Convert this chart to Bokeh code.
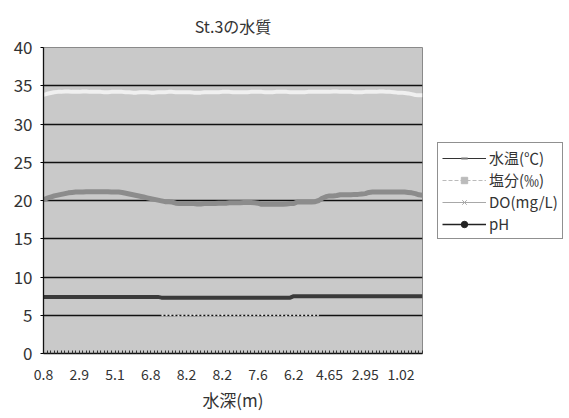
from bokeh.plotting import figure
from bokeh.layouts import row
from bokeh.models import Legend, LegendItem, FixedTicker, Range1d, ColumnDataSource
from bokeh.embed import file_html
from bokeh.resources import INLINE
import numpy as np

# ---- data ----
depth_labels = ["0.8", "2.9", "5.1", "6.8", "8.2", "8.2", "7.6", "6.2", "4.65", "2.95", "1.02"]
label_every = 10
n_points = 107

water_temp = [
    20.1, 20.3, 20.45, 20.6, 20.7, 20.8, 20.9, 21.0, 21.05, 21.1,
    21.1, 21.1, 21.15, 21.15, 21.15, 21.15, 21.15, 21.15, 21.15, 21.1,
    21.1, 21.1, 21.05, 20.95, 20.85, 20.75, 20.65, 20.55, 20.45, 20.35,
    20.25, 20.15, 20.05, 19.95, 19.85, 19.85, 19.8, 19.65, 19.6, 19.6,
    19.6, 19.6, 19.6, 19.55, 19.55, 19.6, 19.6, 19.6, 19.6, 19.65,
    19.65, 19.65, 19.7, 19.7, 19.7, 19.7, 19.75, 19.75, 19.75, 19.7,
    19.65, 19.5, 19.5, 19.5, 19.5, 19.5, 19.5, 19.5, 19.55, 19.6,
    19.6, 19.8, 19.8, 19.8, 19.8, 19.8, 19.85, 20.0, 20.3, 20.5,
    20.6, 20.6, 20.65, 20.75, 20.75, 20.75, 20.75, 20.8, 20.8, 20.85,
    20.9, 21.05, 21.1, 21.1, 21.1, 21.1, 21.1, 21.1, 21.1, 21.1,
    21.1, 21.1, 21.05, 21.0, 20.9, 20.75, 20.7,
]
salinity = [
    33.8, 33.95, 34.05, 34.15, 34.2, 34.2, 34.25, 34.25, 34.2, 34.2,
    34.2, 34.25, 34.25, 34.2, 34.2, 34.2, 34.2, 34.15, 34.15, 34.2,
    34.2, 34.2, 34.2, 34.15, 34.15, 34.1, 34.1, 34.15, 34.15, 34.15,
    34.1, 34.1, 34.15, 34.15, 34.15, 34.2, 34.2, 34.15, 34.15, 34.15,
    34.15, 34.15, 34.1, 34.1, 34.1, 34.15, 34.15, 34.15, 34.15, 34.15,
    34.2, 34.2, 34.2, 34.15, 34.15, 34.15, 34.15, 34.15, 34.2, 34.2,
    34.2, 34.2, 34.15, 34.15, 34.15, 34.2, 34.2, 34.2, 34.2, 34.15,
    34.15, 34.15, 34.15, 34.15, 34.2, 34.2, 34.2, 34.2, 34.2, 34.2,
    34.2, 34.25, 34.25, 34.2, 34.2, 34.2, 34.2, 34.15, 34.15, 34.15,
    34.2, 34.2, 34.2, 34.2, 34.25, 34.25, 34.2, 34.2, 34.15, 34.1,
    34.1, 34.05, 34.0, 33.9, 33.8, 33.75, 33.75,
]
do_mgl = [None] * 33 + [
    5.0, 5.0, 5.05, 5.0, 5.0, 4.95, 5.0, 5.0, 5.0, 5.05,
    5.0, 5.0, 5.0, 4.95, 5.0, 5.0, 5.0, 5.05, 5.0, 5.0,
    5.0, 5.0, 5.0, 4.95, 5.0, 5.0, 5.0, 5.0, 5.05, 5.0,
    5.0, 5.0, 5.0, 5.0, 5.0, 4.95, 5.0, 5.0, 5.0, 5.0,
    5.0, 5.0, 5.0, 5.0, 5.0,
] + [None] * 29
ph = [7.4] * 33 + [7.3] * 37 + [7.5] * 37

x = list(range(n_points))

FONT = "Noto Sans CJK JP"

p = figure(
    width=424, height=418,
    output_backend="svg", toolbar_location=None,
    x_range=Range1d(0, n_points - 1), y_range=Range1d(0, 40),
    title="St.3の水質",
    min_border_left=43, min_border_right=2, min_border_top=47, min_border_bottom=65,
)
p.background_fill_color = "#c9c9c9"
p.border_fill_color = "white"
p.outline_line_color = "#8a8a8a"
p.outline_line_width = 1

p.title.align = "center"
p.title.text_font = FONT
p.title.text_font_size = "16px"
p.title.text_font_style = "normal"
p.title.text_color = "#333333"
p.title.standoff = 20

# grid
p.xgrid.visible = False
p.ygrid.ticker = FixedTicker(ticks=[5, 10, 15, 20, 25, 30, 35])
p.ygrid.grid_line_color = "#111111"
p.ygrid.grid_line_width = 1.3

# y axis
p.yaxis.ticker = FixedTicker(ticks=list(range(0, 41, 5)))
p.yaxis.major_label_text_font = FONT
p.yaxis.major_label_text_font_size = "17px"
p.yaxis.major_label_text_color = "#333333"
p.yaxis.axis_line_color = "#111111"
p.yaxis.axis_line_width = 1.3
p.yaxis.major_tick_out = 3
p.yaxis.major_tick_in = 0
p.yaxis.minor_tick_line_color = None
p.yaxis.major_label_standoff = 8

# x axis
p.xaxis.ticker = FixedTicker(ticks=x)
p.xaxis.major_label_overrides = {
    i: (depth_labels[i // label_every] if i % label_every == 0 and i // label_every < len(depth_labels) else "")
    for i in x
}
p.xaxis.major_label_text_font = FONT
p.xaxis.major_label_text_font_size = "14px"
p.xaxis.major_label_text_color = "#333333"
p.xaxis.axis_line_color = "#111111"
p.xaxis.axis_line_width = 1.5
p.xaxis.major_tick_in = 3
p.xaxis.major_tick_out = 0
p.xaxis.major_tick_line_color = "#333333"
p.xaxis.minor_tick_line_color = None
p.xaxis.major_label_standoff = 15
p.xaxis.axis_label = "水深(m)"
p.xaxis.axis_label_text_font = FONT
p.xaxis.axis_label_text_font_size = "17px"
p.xaxis.axis_label_text_font_style = "normal"
p.xaxis.axis_label_text_color = "#333333"
p.xaxis.axis_label_standoff = 4

src = ColumnDataSource(dict(
    x=x, wt=water_temp, sal=salinity,
    do=[np.nan if v is None else v for v in do_mgl], ph=ph,
))

c_wt = "#8c8c8c"
c_sal = "#f0f0f0"
c_do = "#e2e2e2"
c_ph = "#3a3a3a"

p.line("x", "sal", source=src, line_color=c_sal, line_width=4)
p.line("x", "do", source=src, line_color=c_do, line_width=2, line_dash="2 2")
p.line("x", "wt", source=src, line_color=c_wt, line_width=5)
p.line("x", "ph", source=src, line_color=c_ph, line_width=4)

# ---- legend panel (separate figure to the right) ----
lg = figure(
    width=145, height=418,
    output_backend="svg", toolbar_location=None,
    x_range=Range1d(0, 1), y_range=Range1d(0, 1),
    min_border=0,
)
lg.axis.visible = False
lg.grid.visible = False
lg.outline_line_color = None
lg.background_fill_color = "white"
lg.border_fill_color = "white"

# off-screen points so the legend glyphs are drawn
hidden = ColumnDataSource(dict(x=[-5, -4], y=[-5, -5]))
lw_wt = lg.line("x", "y", source=hidden, line_color="#333333", line_width=1.2)
lm_wt = lg.scatter("x", "y", source=hidden, marker="dash", size=5, line_color="#777777", line_width=2)
lw_sal = lg.line("x", "y", source=hidden, line_color="#bbbbbb", line_width=1.2, line_dash="4 2")
lm_sal = lg.scatter("x", "y", source=hidden, marker="square", size=4, fill_color="#bbbbbb", line_color="#bbbbbb")
lw_do = lg.line("x", "y", source=hidden, line_color="#a8a8a8", line_width=1.2)
lm_do = lg.scatter("x", "y", source=hidden, marker="x", size=6, line_color="#a8a8a8")
lw_ph = lg.line("x", "y", source=hidden, line_color="#222222", line_width=1.5)
lm_ph = lg.scatter("x", "y", source=hidden, marker="circle", size=3, fill_color="#222222", line_color="#222222")

legend = Legend(items=[
    LegendItem(label="水温(℃)", renderers=[lw_wt, lm_wt]),
    LegendItem(label="塩分(‰)", renderers=[lw_sal, lm_sal]),
    LegendItem(label="DO(mg/L)", renderers=[lw_do, lm_do]),
    LegendItem(label="pH", renderers=[lw_ph, lm_ph]),
])
legend.location = (13, 114)
legend.label_text_font = FONT
legend.label_text_font_size = "15px"
legend.label_text_color = "#333333"
legend.label_height = 18
legend.glyph_width = 44
legend.glyph_height = 16
legend.label_standoff = 3
legend.spacing = 1
legend.padding = 4
legend.margin = 0
legend.border_line_color = "#222222"
legend.border_line_width = 1.2
legend.background_fill_color = "white"
lg.add_layout(legend)

layout = row(p, lg, spacing=0)
open("out.html", "w").write(file_html(layout, INLINE))
